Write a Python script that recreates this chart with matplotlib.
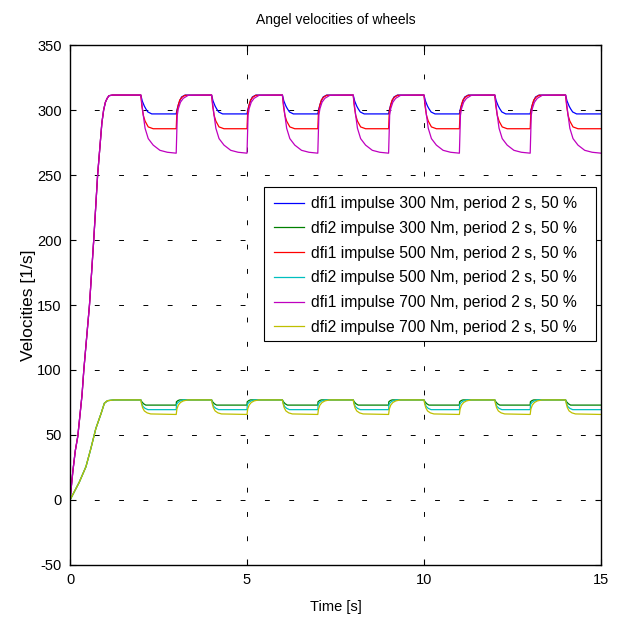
import numpy as np
import matplotlib
matplotlib.use("Agg")
import matplotlib.pyplot as plt
from matplotlib.patches import Rectangle

plt.rcParams['font.family'] = ['Liberation Sans', 'DejaVu Sans']
plt.rcParams['axes.unicode_minus'] = False

# ---- data -------------------------------------------------------------
# start-up phase (shared by all three load cases of each wheel)
rise1_t = [0.0, 0.08, 0.15, 0.22, 0.34, 0.39, 0.55, 0.67, 0.78, 0.9, 0.95, 1.0, 1.05, 1.1, 1.2]
rise1_v = [0.0, 22.0, 38.0, 49.0, 81.0, 100.0, 150.0, 200.0, 250.0, 290.0, 300.0, 306.0, 309.0, 311.0, 311.5]

rise2_t = [0.0, 0.26, 0.45, 0.59, 0.73, 0.88, 0.97, 1.06, 1.25]
rise2_v = [0.0, 13.6, 25.6, 39.7, 55.0, 66.7, 74.4, 76.4, 77.0]

# one 2 s torque period (impulse on during the first second), time relative to its start
p300_1_t = [0.0, 0.04, 0.1, 0.14, 0.2, 0.31, 1.0, 1.02, 1.06, 1.1, 1.15, 1.25]
p300_1_v = [311.5, 307.0, 303.0, 301.0, 298.5, 297.0, 297.0, 300.0, 304.0, 307.0, 310.0, 311.5]

p500_1_t = [0.0, 0.03, 0.07, 0.12, 0.21, 0.35, 1.0, 1.02, 1.06, 1.1, 1.17, 1.25]
p500_1_v = [311.5, 303.0, 296.0, 291.5, 287.0, 285.6, 285.6, 298.7, 304.0, 307.7, 310.0, 311.3]

p700_1_t = [0.0, 0.03, 0.07, 0.12, 0.21, 0.35, 0.54, 0.75, 1.0, 1.03, 1.06, 1.12, 1.2, 1.34]
p700_1_v = [311.5, 305.0, 296.0, 286.0, 278.0, 273.0, 269.0, 267.5, 266.8, 296.0, 301.0, 306.0, 309.0, 311.3]

p300_2_t = [0.0, 0.03, 0.08, 0.14, 1.0, 1.005, 1.05, 1.1]
p300_2_v = [77.0, 75.5, 74.0, 73.0, 73.0, 75.5, 76.5, 77.0]

p500_2_t = [0.0, 0.03, 0.06, 0.12, 0.2, 1.0, 1.01, 1.05, 1.1, 1.2]
p500_2_v = [77.0, 74.0, 72.0, 70.5, 69.5, 69.5, 73.5, 75.0, 76.0, 77.0]

p700_2_t = [0.0, 0.02, 0.05, 0.1, 0.18, 0.28, 1.0, 1.02, 1.06, 1.12, 1.2, 1.33]
p700_2_v = [77.0, 74.0, 71.0, 68.5, 67.0, 66.2, 65.8, 70.0, 73.0, 75.0, 76.2, 77.0]

labels = [
    "dfi1 impulse 300 Nm, period 2 s, 50 %",
    "dfi2 impulse 300 Nm, period 2 s, 50 %",
    "dfi1 impulse 500 Nm, period 2 s, 50 %",
    "dfi2 impulse 500 Nm, period 2 s, 50 %",
    "dfi1 impulse 700 Nm, period 2 s, 50 %",
    "dfi2 impulse 700 Nm, period 2 s, 50 %",
]
colors = ["#0000ff", "#008000", "#ff0000", "#00bfbf", "#bf00bf", "#bfbf00"]

T_END = 15.0
PERIOD = 2.0
FIRST_IMPULSE = 2.0


def periodic(rise_t, rise_v, per_t, per_v):
    """Start-up phase followed by the repeated torque period up to T_END."""
    t = list(rise_t)
    v = list(rise_v)
    start = FIRST_IMPULSE
    while start < T_END:
        for tt, vv in zip(per_t, per_v):
            if start + tt <= T_END + 1e-9:
                t.append(start + tt)
                v.append(vv)
        start += PERIOD
    return np.array(t), np.array(v)


series = [
    periodic(rise1_t, rise1_v, p300_1_t, p300_1_v),
    periodic(rise2_t, rise2_v, p300_2_t, p300_2_v),
    periodic(rise1_t, rise1_v, p500_1_t, p500_1_v),
    periodic(rise2_t, rise2_v, p500_2_t, p500_2_v),
    periodic(rise1_t, rise1_v, p700_1_t, p700_1_v),
    periodic(rise2_t, rise2_v, p700_2_t, p700_2_v),
]

# ---- figure -----------------------------------------------------------
fig = plt.figure(figsize=(6.19, 6.21), dpi=100)
ax = fig.add_axes([0.1131, 0.0902, 0.8578, 0.8373])

for (t, v), c, lab in zip(series, colors, labels):
    ax.plot(t, v, color=c, lw=0.9, label=lab)

ax.set_xlim(0, 15)
ax.set_ylim(-50, 350)
ax.set_xticks([0, 5, 10, 15])
ax.set_yticks(np.arange(-50, 351, 50))

ax.grid(True, color="black", linestyle=(0, (5, 20)), linewidth=0.7)
ax.tick_params(direction="in", length=4, width=0.8, top=True, right=True,
               labelsize=10.5, pad=6, colors="black")
for s in ax.spines.values():
    s.set_linewidth(1.0)

ax.set_title("Angel velocities of wheels", fontsize=10, pad=15)
ax.set_xlabel("Time [s]", fontsize=10.5, labelpad=9)
ax.set_ylabel("Velocities [1/s]", fontsize=12.5, labelpad=1)

# legend box (white, black edge) with the entries placed inside it
box = Rectangle((0.365, 0.431), 0.6256, 0.296, transform=ax.transAxes,
                facecolor="white", edgecolor="black", linewidth=0.8, zorder=4.5)
ax.add_patch(box)
leg = ax.legend(loc="upper left", bbox_to_anchor=(0.3707, 0.723), fontsize=11.3,
                frameon=False, handlelength=1.9, labelspacing=0.62, borderpad=0.45,
                handletextpad=0.45, borderaxespad=0)
leg.set_zorder(5)

fig.savefig("out.png", dpi=100)
